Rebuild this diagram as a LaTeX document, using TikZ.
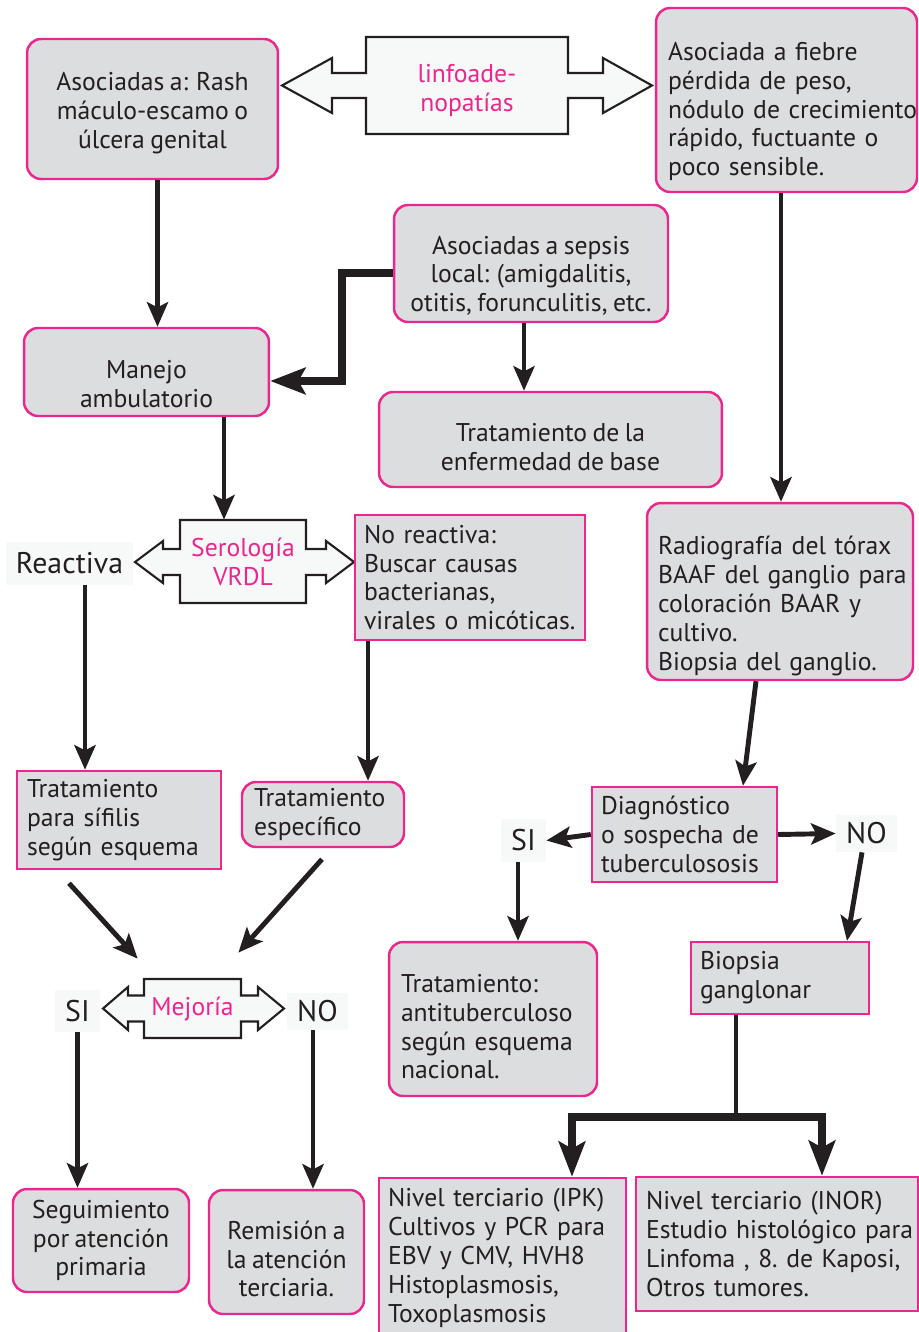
\documentclass[tikz,border=0pt]{standalone}
\usepackage{fontspec}
\setmainfont{PT Sans}[WordSpace=0.8]
\usetikzlibrary{arrows.meta,calc,positioning}

\definecolor{rosa}{HTML}{EC268F}
\definecolor{gris}{HTML}{DCDDDE}
\definecolor{tinta}{HTML}{231F20}
\definecolor{claro}{HTML}{F7F8F8}

\newcommand{\letra}{\fontsize{14.6}{16.4}\selectfont\hyphenpenalty=10000\exhyphenpenalty=10000}
\newcommand{\letragrande}{\fontsize{17}{19}\selectfont}
% pushes the text of a box a little lower
\newcommand{\hueco}[1]{\rule{0pt}{#1}}

\tikzset{
  caja/.style={draw=rosa, fill=gris, line width=1.4pt, text=tinta,
    font=\letra, inner sep=0pt},
  rcaja/.style={caja, rounded corners=8pt},
  doble/.style={draw=tinta, fill=claro, line width=1.2pt},
  dobletexto/.style={text=rosa, font=\letra, align=center, inner sep=0pt},
  etiq/.style={fill=claro, text=tinta, font=\letragrande, inner sep=0pt},
  flecha/.style={draw=tinta, line width=2.8pt,
    -{Stealth[length=14pt,width=12pt,inset=3pt]}},
  gruesa/.style={draw=tinta, line width=4.4pt,
    -{Stealth[length=20pt,width=15pt,inset=4pt]}},
  tallo/.style={draw=tinta, line width=2.8pt}
}

\begin{document}
\begin{tikzpicture}[x=0.02cm, y=-0.02cm]
  \useasboundingbox (0,0) rectangle (919,1332);

  % top row
  \node[rcaja, minimum width=5.02cm, minimum height=2.8cm, align=center]
    (rash) at (152.5,109) {\hueco{0.53cm}Asociadas a: Rash\\máculo-escamo o\\úlcera genital};
  \draw[doble] (366,37) -- (568,37) -- (568,73) -- (603,73) -- (603,58)
    -- (652,85.5) -- (603,113) -- (603,98) -- (568,98) -- (568,134)
    -- (366,134) -- (366,98) -- (332,98) -- (332,113) -- (282,85.5)
    -- (332,58) -- (332,73) -- (366,73) -- cycle;
  \node[dobletexto, minimum width=4.04cm, minimum height=1.94cm]
    (linfo) at (467,85.5) {\hueco{0.57cm}linfoade-\\nopatías};
  \node[rcaja, inner xsep=0.24cm, text width=4.74cm, minimum height=3.68cm, align=left]
    (fiebre) at (786.5,100) {\hueco{0.83cm}Asociada a fiebre\\pérdida de peso,\\nódulo~de~crecimiento\\rápido, fuctuante o\\poco sensible.};

  % second row
  \node[rcaja, minimum width=5.48cm, minimum height=2.34cm, align=center]
    (sepsis) at (531,263.5) {\hueco{0.85cm}Asociadas a sepsis\\local: (amigdalitis,\\otitis, forunculitis, etc.};
  \node[rcaja, minimum width=4.9cm, minimum height=1.76cm, align=center]
    (manejo) at (146.5,372) {\hueco{0.85cm}Manejo\\ambulatorio};
  \node[rcaja, minimum width=6.86cm, minimum height=1.9cm, align=center]
    (base) at (550.5,439.5) {\hueco{0.65cm}Tratamiento de la\\enfermedad de base};

  % serologia
  \draw[doble] (180,520) -- (306,520) -- (306,549) -- (326,549) -- (326,541)
    -- (354,562) -- (326,583) -- (326,575) -- (306,575) -- (306,603)
    -- (180,603) -- (180,575) -- (163,575) -- (163,583) -- (135,562)
    -- (163,541) -- (163,549) -- (180,549) -- cycle;
  \node[dobletexto, minimum width=2.52cm, minimum height=1.66cm]
    (sero) at (243,561.5) {Serología\\VRDL};
  \node[etiq, minimum width=2.54cm, minimum height=0.86cm]
    (reactiva) at (69.5,563.5) {Reactiva};
  \node[caja, inner xsep=0.18cm, text width=4.24cm, minimum height=2.5cm, align=left]
    (noreact) at (470,577.5) {No reactiva:\\Buscar causas\\bacterianas,\\virales~o~micóticas.};
  \node[rcaja, inner xsep=0.22cm, text width=4.88cm, minimum height=3.54cm, align=left]
    (radio) at (780,591.5) {\hueco{0.95cm}Radiografía~del~tórax\\BAAF~del~ganglio~para\\coloración BAAR y\\cultivo.\\Biopsia del ganglio.};

  % tratamientos
  \node[caja, inner xsep=0.2cm, text width=3.68cm, minimum height=1.96cm, align=left]
    (sifilis) at (119,820) {Tratamiento\\para sífilis\\según esquema};
  \node[rcaja, inner xsep=0.24cm, text width=2.76cm, minimum height=1.3cm, align=left]
    (especif) at (323,814.5) {Tratamiento\\específico};
  \node[caja, inner xsep=0.18cm, text width=3.34cm, minimum height=1.9cm, align=left]
    (diag) at (684.5,834.5) {Diagnóstico\\o sospecha de\\tuberculososis};
  \node[etiq, minimum width=0.9cm, minimum height=0.86cm] (si2) at (523.5,840.5) {SI};
  \node[etiq, minimum width=1.22cm, minimum height=0.74cm] (no2) at (866.5,833.5) {NO};
  \node[rcaja, inner xsep=0.24cm, text width=3.68cm, minimum height=3.08cm, align=left]
    (antitb) at (493,1019) {\hueco{0.67cm}Tratamiento:\\antituberculoso\\según esquema\\nacional.};
  \node[caja, inner xsep=0.18cm, text width=3.2cm, minimum height=1.44cm, align=left]
    (biopsia) at (780,978) {Biopsia\\ganglonar};

  % mejoria
  \draw[doble] (144,979) -- (241,979) -- (241,995.5) -- (258,995.5) -- (258,987)
    -- (284,1008.5) -- (258,1030) -- (258,1021.5) -- (241,1021.5) -- (241,1038)
    -- (144,1038) -- (144,1021.5) -- (128,1021.5) -- (128,1030) -- (103,1008.5)
    -- (128,987) -- (128,995.5) -- (144,995.5) -- cycle;
  \node[dobletexto, minimum width=1.94cm, minimum height=1.18cm]
    (mejo) at (192.5,1008.5) {Mejoría};
  \node[etiq, minimum width=0.9cm, minimum height=0.84cm] (si1) at (77.5,1011) {SI};
  \node[etiq, minimum width=1.22cm, minimum height=0.74cm] (no1) at (317.5,1011.5) {NO};

  % bottom row
  \node[rcaja, minimum width=3.52cm, minimum height=2.06cm, align=center]
    (segui) at (101,1240.5) {Seguimiento\\por atención\\primaria};
  \node[rcaja, minimum width=3.1cm, minimum height=2.48cm, align=center]
    (remis) at (286.5,1252) {\hueco{0.65cm}Remisión a\\la atención\\terciaria.};
  \node[caja, inner xsep=0.18cm, text width=4.58cm, minimum height=3.2cm, align=left]
    (ipk) at (502.5,1258) {Nivel~terciario~(IPK)\\Cultivos~y~PCR~para\\EBV y CMV, HVH8\\Histoplasmosis,\\Toxoplasmosis};
  \node[caja, inner xsep=0.2cm, text width=5.24cm, minimum height=2.68cm, align=left]
    (inor) at (777,1244) {Nivel~terciario~(INOR)\\Estudio~histológico~para\\Linfoma~,~8.~de~Kaposi,\\Otros tumores.};

  % connectors
  \draw[flecha] ([xshift=0.1cm]rash.south) -- ([xshift=0.1cm]rash.south |- manejo.north);
  \draw[gruesa] ([yshift=-0.19cm]sepsis.west) -- ++(-51,0) |- ([yshift=-0.18cm]manejo.east);
  \draw[flecha] ([xshift=-0.14cm]sepsis.south) -- ([xshift=-0.14cm]sepsis.south |- base.north);
  \draw[flecha] ([xshift=-0.11cm]fiebre.south) -- ([xshift=-0.11cm]fiebre.south |- radio.north);
  \draw[flecha] ([xshift=1.55cm]manejo.south) -- ([xshift=1.55cm]manejo.south |- sero.north);
  \draw[flecha] ([xshift=0.31cm]reactiva.south) -- ([xshift=0.31cm]reactiva.south |- sifilis.north);
  \draw[flecha] ([xshift=-2.04cm]noreact.south) -- ([xshift=-2.04cm]noreact.south |- especif.north);
  \draw[flecha] ([xshift=-0.48cm]radio.south) -- ([xshift=1.17cm]diag.north);
  \draw[flecha] (diag.west) -- (si2.east);
  \draw[flecha] (diag.east) -- (no2.west);
  \draw[flecha] ([xshift=-0.11cm]si2.south) -- ([xshift=-0.11cm]si2.south |- antitb.north);
  \draw[flecha] ([xshift=-0.09cm]no2.south) -- ([xshift=1.34cm]biopsia.north);
  \draw[flecha] ([shift={(-50,13)}]sifilis.south) -- ([shift={(-6,-20)}]mejo.north west);
  \draw[flecha] ([shift={(-1,11)}]especif.south) -- ([shift={(-3,-26)}]mejo.north east);
  \draw[flecha] (si1.south) -- (si1.south |- segui.north);
  \draw[flecha] ([xshift=-0.09cm]no1.south) -- ([xshift=-0.09cm]no1.south |- remis.north);

  % biopsia ganglionar branches
  \draw[tallo] ([xshift=-0.88cm]biopsia.south) -- ++(0,102) coordinate (rama);
  \draw[gruesa] (rama) -| ([xshift=1.39cm]ipk.north);
  \draw[gruesa] (rama) -| ([xshift=0.9cm]inor.north);
\end{tikzpicture}
\end{document}
